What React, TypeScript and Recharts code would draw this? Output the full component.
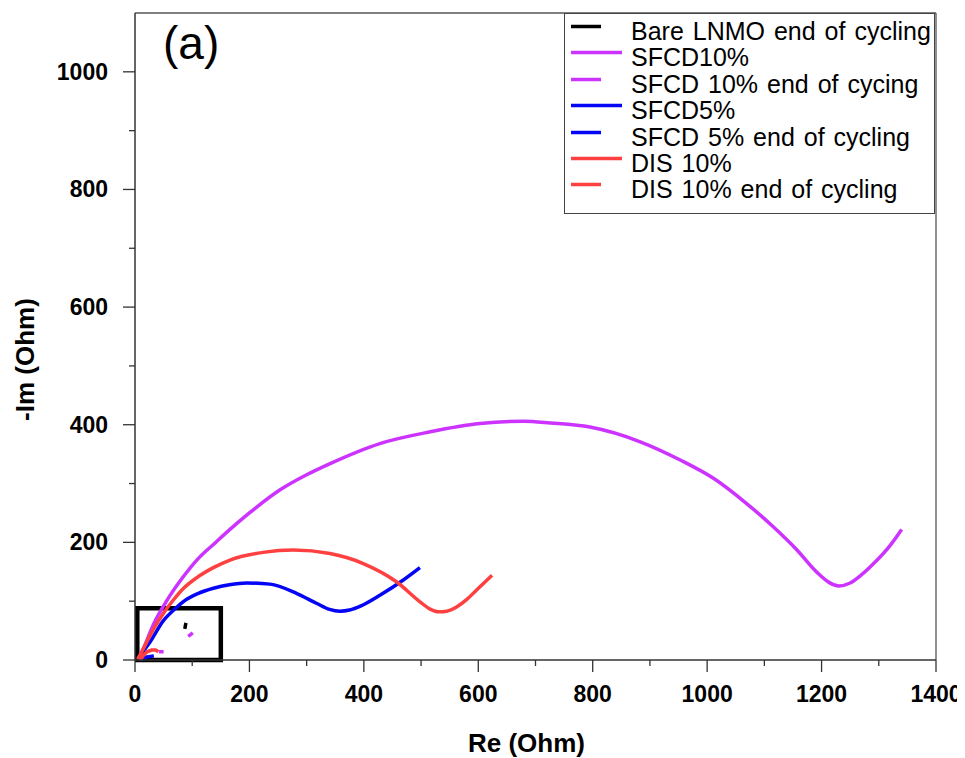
import React from 'react';
import {
  LineChart,
  Line,
  XAxis,
  YAxis,
  Legend,
  Label,
  ReferenceArea,
  ReferenceLine,
} from 'recharts';

// Nyquist plots: Re (Ohm) and -Im (Ohm)
const sfcd10Re = [5, 15, 32, 55, 84, 110, 140, 166, 200, 253, 300, 341, 428, 516, 603, 679, 726, 795, 883, 953, 1011, 1069, 1116, 1157, 1192, 1213, 1230, 1250, 1270, 1291, 1320, 1340];
const sfcd10Im = [2, 20, 60, 100, 141, 172, 199, 222, 250, 289, 315, 334, 368, 388, 402, 406, 403, 396, 371, 340, 309, 266, 226, 187, 149, 132, 126, 131, 145, 164, 195, 222];

const sfcd5Re = [6, 14, 26, 49, 70, 84, 110, 137, 165, 195, 236, 283, 318, 340, 358, 375, 395, 428, 469, 498];
const sfcd5Im = [1, 14, 30, 66, 87, 99, 113, 122, 128, 131, 129, 113, 96, 86, 83, 85, 92, 110, 136, 157];

const dis10Re = [5, 14, 32, 50, 67, 85, 108, 137, 166, 224, 277, 341, 399, 457, 498, 515, 530, 545, 562, 580, 597, 624];
const dis10Im = [1, 18, 52, 80, 102, 122, 140, 157, 170, 183, 187, 181, 164, 133, 99, 87, 82, 83, 90, 103, 119, 144];

const bareEndRe = [87, 88, 89];
const bareEndIm = [53, 58, 63];

const sfcd10EndRe = [42, 50, 70, 93, 97, 101];
const sfcd10EndIm = [14, 14, null, 40, 43, 46];

const sfcd5EndRe = [8, 14, 21, 27, 33];
const sfcd5EndIm = [0, 3, 5, 6, 7];

const dis10EndRe = [9, 15, 21, 29, 36, 41];
const dis10EndIm = [0, 8, 14, 17, 17, 14];

const xTicks = [0, 100, 200, 300, 400, 500, 600, 700, 800, 900, 1000, 1100, 1200, 1300, 1400];
const yTicks = [0, 100, 200, 300, 400, 500, 600, 700, 800, 900, 1000];

const toPoints = (re: number[], im: (number | null)[]) => re.map((x, i) => ({ x, y: im[i] }));

const SERIES = [
  { name: 'Bare LNMO end of cycling', color: '#000000', end: true, data: toPoints(bareEndRe, bareEndIm) },
  { name: 'SFCD10%', color: '#CC33FF', end: false, data: toPoints(sfcd10Re, sfcd10Im) },
  { name: 'SFCD 10% end of cycing', color: '#CC33FF', end: true, data: toPoints(sfcd10EndRe, sfcd10EndIm) },
  { name: 'SFCD5%', color: '#0505F5', end: false, data: toPoints(sfcd5Re, sfcd5Im) },
  { name: 'SFCD 5% end of cycling', color: '#0505F5', end: true, data: toPoints(sfcd5EndRe, sfcd5EndIm) },
  { name: 'DIS 10%', color: '#FF4040', end: false, data: toPoints(dis10Re, dis10Im) },
  { name: 'DIS 10% end of cycling', color: '#FF4040', end: true, data: toPoints(dis10EndRe, dis10EndIm) },
];

const FONT = '"Liberation Sans", Arial, sans-serif';
const TICK_MAJOR = 12;
const TICK_MINOR = 6;
const Y_MARGIN = 15;
const X_MARGIN = 8;
const AXIS_COLOR = '#333';

const YTick = (props: any) => {
  const { x, y, payload } = props;
  const axisX = x + TICK_MAJOR + Y_MARGIN;
  const major = payload.value % 200 === 0;
  return (
    <g>
      <line x1={axisX - (major ? TICK_MAJOR : TICK_MINOR)} x2={axisX} y1={y} y2={y} stroke={AXIS_COLOR} strokeWidth={1.3} />
      {major && (
        <text x={x} y={y + 8} textAnchor="end" fontFamily={FONT} fontWeight={700} fontSize={23} fill="#000">
          {payload.value}
        </text>
      )}
    </g>
  );
};

const XTick = (props: any) => {
  const { x, y, payload } = props;
  const axisY = y - TICK_MAJOR - X_MARGIN;
  const major = payload.value % 200 === 0;
  return (
    <g>
      <line x1={x} x2={x} y1={axisY} y2={axisY + (major ? TICK_MAJOR : TICK_MINOR)} stroke={AXIS_COLOR} strokeWidth={1.3} />
      {major && (
        <text x={x} y={axisY + 42} textAnchor="middle" fontFamily={FONT} fontWeight={700} fontSize={23} fill="#000">
          {payload.value}
        </text>
      )}
    </g>
  );
};

const LegendBox = () => (
  <div
    style={{
      boxSizing: 'border-box',
      width: 371,
      height: 201,
      border: '1.5px solid #444',
      background: '#fff',
      paddingTop: 4,
      fontFamily: FONT,
      fontSize: 25,
      color: '#000',
    }}
  >
    {SERIES.map((s) => (
      <div key={s.name} style={{ display: 'flex', height: 26.4, lineHeight: '26.4px', whiteSpace: 'nowrap', wordSpacing: 2 }}>
        <svg width={66} height={26} style={{ flex: 'none' }}>
          <line x1={6} x2={s.end ? 36 : 57} y1={8.5} y2={8.5} stroke={s.color} strokeWidth={3.5} />
        </svg>
        <span>{s.name}</span>
      </div>
    ))}
  </div>
);

export default function App() {
  return (
    <div style={{ position: 'relative', width: 957, height: 750 }}>
      <style>{'.recharts-surface{overflow:visible}'}</style>
      <LineChart width={957} height={750} margin={{ top: 5, right: 29, left: 0, bottom: 8 }}>
        <XAxis
          type="number"
          dataKey="x"
          domain={[0, 1400]}
          ticks={xTicks}
          interval={0}
          height={90}
          tickSize={TICK_MAJOR}
          tickMargin={X_MARGIN}
          tickLine={false}
          tick={<XTick />}
          axisLine={{ stroke: AXIS_COLOR, strokeWidth: 1.5 }}
          label={
            <Label
              content={({ viewBox }: any) => (
                <text
                  x={viewBox.x + viewBox.width / 2 - 9}
                  y={viewBox.y + 92}
                  textAnchor="middle"
                  fontFamily={FONT}
                  fontWeight={700}
                  fontSize={26}
                  fill="#000"
                >
                  Re (Ohm)
                </text>
              )}
            />
          }
        />
        <YAxis
          type="number"
          dataKey="y"
          domain={[0, 1100]}
          ticks={yTicks}
          interval={0}
          width={127}
          tickSize={TICK_MAJOR}
          tickMargin={Y_MARGIN}
          tickLine={false}
          tick={<YTick />}
          axisLine={{ stroke: AXIS_COLOR, strokeWidth: 1.5 }}
          label={
            <Label
              content={({ viewBox }: any) => {
                const cx = viewBox.x + 17;
                const cy = viewBox.y + viewBox.height / 2 + 23;
                return (
                  <text
                    x={cx}
                    y={cy}
                    transform={`rotate(-90 ${cx} ${cy})`}
                    textAnchor="middle"
                    dominantBaseline="central"
                    fontFamily={FONT}
                    fontWeight={700}
                    fontSize={26}
                    fill="#000"
                  >
                    -Im (Ohm)
                  </text>
                );
              }}
            />
          }
        />
        <ReferenceLine y={1100} stroke="#555" strokeWidth={1.3} />
        <ReferenceLine x={1400} stroke="#555" strokeWidth={1.3} />
        {SERIES.map((s) => (
          <Line
            key={s.name}
            name={s.name}
            data={s.data}
            dataKey="y"
            type={s.end ? 'linear' : 'monotone'}
            stroke={s.color}
            strokeWidth={3.5}
            dot={false}
            activeDot={false}
            isAnimationActive={false}
          />
        ))}
        <ReferenceArea x1={4} x2={150} y1={0} y2={88} fill="none" stroke="#000" strokeWidth={4.5} />
        <Legend
          layout="horizontal"
          verticalAlign="middle"
          align="center"
          content={() => <LegendBox />}
          wrapperStyle={{ left: 556, top: 5, width: 371, height: 201 }}
        />
      </LineChart>
      <div
        style={{
          position: 'absolute',
          left: 155,
          top: 11.6,
          fontFamily: FONT,
          fontSize: 46,
          lineHeight: '46px',
          color: '#000',
        }}
      >
        (a)
      </div>
    </div>
  );
}
